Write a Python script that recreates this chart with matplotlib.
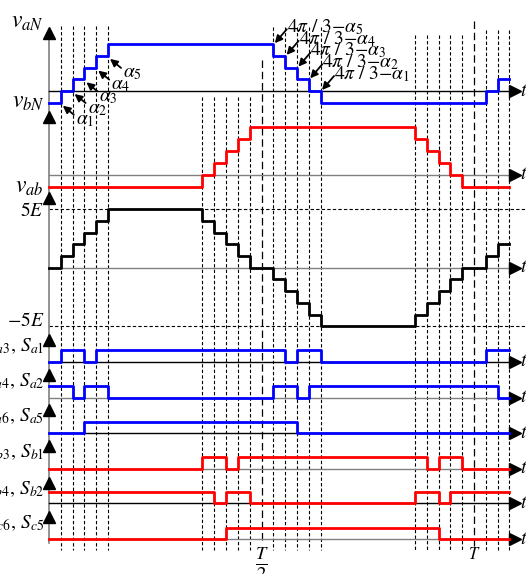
import matplotlib
matplotlib.use("Agg")
import matplotlib.pyplot as plt

plt.rcParams["mathtext.fontset"] = "stix"
plt.rcParams["font.family"] = ["Liberation Serif", "DejaVu Serif"]

# switching angles in degrees (period T = 360)
ALPHA = [10, 20, 30, 40, 50]

# staircase waveforms: edge angles and the level held after each edge
VAN_EDGES = [0, 10, 20, 30, 40, 50, 190, 200, 210, 220, 230, 370, 380, 390]
VAN_LEVELS = [-1, 0, 1, 2, 3, 4, 3, 2, 1, 0, -1, 0, 1]
VBN_EDGES = [0, 130, 140, 150, 160, 170, 310, 320, 330, 340, 350, 390]
VBN_LEVELS = [-1, 0, 1, 2, 3, 4, 3, 2, 1, 0, -1]
VAB_EDGES = [0, 10, 20, 30, 40, 50, 130, 140, 150, 160, 170, 190, 200, 210, 220, 230,
             310, 320, 330, 340, 350, 370, 380, 390]
VAB_LEVELS = [0, 1, 2, 3, 4, 5, 4, 3, 2, 1, 0, -1, -2, -3, -4, -5, -4, -3, -2, -1, 0, 1, 2]

# switching signals (0 = off, 1 = on)
SA1_EDGES = [0, 10, 30, 40, 200, 210, 230, 370, 390]
SA1_LEVELS = [0, 1, 0, 1, 0, 1, 0, 1]
SA2_EDGES = [0, 20, 30, 50, 190, 210, 220, 380, 390]
SA2_LEVELS = [1, 0, 1, 0, 1, 0, 1, 0]
SA5_EDGES = [0, 30, 210, 390]
SA5_LEVELS = [0, 1, 0]
SB1_EDGES = [0, 130, 150, 160, 320, 330, 350, 390]
SB1_LEVELS = [0, 1, 0, 1, 0, 1, 0]
SB2_EDGES = [0, 140, 150, 170, 310, 330, 340, 390]
SB2_LEVELS = [1, 0, 1, 0, 1, 0, 1]
SC5_EDGES = [0, 150, 330, 390]
SC5_LEVELS = [0, 1, 0]

SWITCH_LABELS = [r"$S_{a3},\,S_{a1}$", r"$S_{a4},\,S_{a2}$", r"$S_{a6},\,S_{a5}$",
                 r"$S_{b3},\,S_{b1}$", r"$S_{b4},\,S_{b2}$", r"$S_{c6},\,S_{c5}$"]

# layout (pixel units of the 526x574 canvas)
W, H = 526, 574
X0 = 49                     # pixel of angle 0
PX = 425 / 360              # pixels per degree
BLUE, RED, GRAY = "#0000ff", "#ff0000", "#808080"


def X(px):
    return (px - X0) / PX


def step_y(base, step, levels):
    return [base - step * v for v in levels]


fig = plt.figure(figsize=(W / 100, H / 100), dpi=100)
ax = fig.add_axes([0, 0, 1, 1])
ax.set_xlim(X(0), X(W))
ax.set_ylim(H, 0)
ax.axis("off")

# vertical dashed guide lines
groups = [(ALPHA, 26), ([180 - a for a in ALPHA], 97), ([180 + a for a in ALPHA], 27),
          ([360 - a for a in ALPHA], 35), ([360 + a for a in ALPHA[:3]], 30)]
for angles, top in groups:
    ax.vlines(angles, top, 550, colors="k", lw=0.8, linestyles=(0, (3, 2)))
ax.vlines([180], 60, 543, colors="k", lw=0.9, linestyles=(0, (6, 3)))
ax.vlines([360], 21, 550, colors="k", lw=0.9, linestyles=(0, (6, 3)))

# +-5E dashed references
ax.hlines([209.3, 326], 0, X(W), colors="k", lw=0.8, linestyles=(0, (3, 2)))

# vertical axis with arrow heads
ax.plot([0, 0], [30, 543], color=GRAY, lw=1.2)
for tip in [28, 112, 193, 335, 370, 405, 441, 478, 512]:
    ax.plot(0, tip + 5, marker="^", color="k", ms=9, mec="k")

# horizontal axes
bases = [91, 174.7, 267.7, 362, 397.7, 433.3, 468.7, 503.3, 539.3]
axis_colors = ["k", GRAY, GRAY, "k", GRAY, "k", GRAY, "k", GRAY]
for b, c in zip(bases, axis_colors):
    ax.plot([0, X(511)], [b, b], color=c, lw=1.0)
    ax.plot(X(515), b, marker=">", color="k", ms=9)
    ax.text(X(520), b, r"$t$", fontsize=14, ha="left", va="center")

# staircase voltages
ax.plot(VAN_EDGES, step_y(91, 11.7, VAN_LEVELS + VAN_LEVELS[-1:]),
        drawstyle="steps-post", color=BLUE, lw=2.0)
ax.plot(VBN_EDGES, step_y(174.7, 11.8, VBN_LEVELS + VBN_LEVELS[-1:]),
        drawstyle="steps-post", color=RED, lw=2.0)
ax.plot(VAB_EDGES, step_y(267.7, 11.7, VAB_LEVELS + VAB_LEVELS[-1:]),
        drawstyle="steps-post", color="k", lw=2.0)

# switching signals
switches = [(SA1_EDGES, SA1_LEVELS, BLUE), (SA2_EDGES, SA2_LEVELS, BLUE),
            (SA5_EDGES, SA5_LEVELS, BLUE), (SB1_EDGES, SB1_LEVELS, RED),
            (SB2_EDGES, SB2_LEVELS, RED), (SC5_EDGES, SC5_LEVELS, RED)]
for (edges, levels, col), b in zip(switches, bases[3:]):
    ax.plot(edges, step_y(b, 11.7, levels + levels[-1:]),
            drawstyle="steps-post", color=col, lw=2.0)

# left labels
ax.text(X(27), 22, r"$v_{aN}$", fontsize=17, ha="center", va="center")
ax.text(X(28), 103, r"$v_{bN}$", fontsize=17, ha="center", va="center")
ax.text(X(29), 187, r"$v_{ab}$", fontsize=17, ha="center", va="center")
ax.text(X(44), 211, r"$5E$", fontsize=14, ha="right", va="center")
ax.text(X(44), 321, r"$-5E$", fontsize=14, ha="right", va="center")
for lab, tip in zip(SWITCH_LABELS, [335, 370, 405, 441, 478, 512]):
    ax.text(X(44), tip + 11, lab, fontsize=14, ha="right", va="center")

# alpha annotations on the rising edges
arrow = dict(arrowstyle="-|>", color="k", lw=1.3, mutation_scale=11, shrinkA=0, shrinkB=0)
for k, a in enumerate(ALPHA):
    ty = 91 - 11.7 * (k - 1) + 3
    tx = a + 2 / PX
    ax.annotate("", xy=(tx, ty), xytext=(tx + 11 / PX, ty + 9), arrowprops=arrow)
    ax.text(tx + 13 / PX, ty + 15, rf"$\alpha_{{{k + 1}}}$", fontsize=14,
            ha="left", va="center")

# 4pi/3 - alpha annotations on the falling edges
for k, a in enumerate(ALPHA):
    fall = 240 - a
    level = VAN_LEVELS[VAN_EDGES.index(fall) - 1]
    ty = 91 - 11.7 * level - 1
    tx = fall + 1.5 / PX
    ax.annotate("", xy=(tx, ty), xytext=(tx + 12 / PX, ty - 14), arrowprops=arrow)
    ax.text(tx + 12 / PX, ty - 16, rf"$4\pi\ /\ 3{{-}}\alpha_{{{k + 1}}}$", fontsize=14,
            ha="left", va="center")

# period marks
ax.text(180, 545, r"$\frac{T}{2}$", fontsize=19, ha="center", va="top")
ax.text(X(474), 555, r"$T$", fontsize=12, ha="center", va="center")

fig.savefig("out.png", dpi=100)
